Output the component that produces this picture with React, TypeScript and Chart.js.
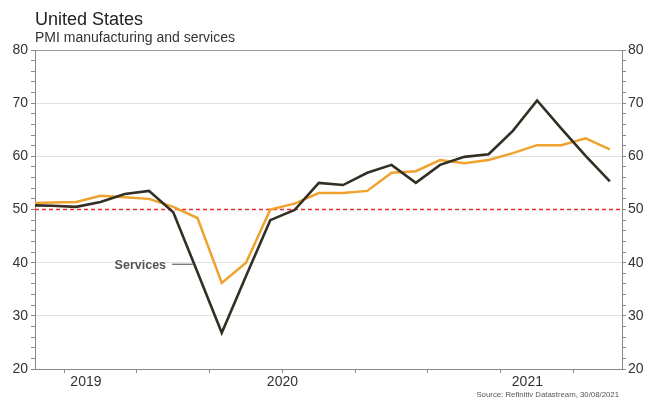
import { useEffect, useRef } from "react";
import { Chart, registerables } from "chart.js";

Chart.register(...registerables);

// Months relative to January 2020 (0 = Jan 2020), values plotted at mid-month
const months = [-5, -4, -3, -2, -1, 0, 1, 2, 3, 4, 5, 6, 7, 8, 9, 10, 11, 12, 13, 14, 15, 16, 17, 18, 19];
const servicesValues = [50.8, 50.7, 50.5, 51.4, 52.9, 53.5, 49.5, 38.2, 26.8, 37.5, 48.0, 49.9, 55.0, 54.6, 56.9, 58.4, 55.0, 58.4, 59.9, 60.4, 64.8, 70.5, 65.2, 60.1, 55.3];
const manufacturingValues = [51.2, 51.3, 51.4, 52.6, 52.3, 52.0, 50.5, 48.4, 36.2, 40.0, 50.0, 51.1, 53.1, 53.1, 53.5, 56.9, 57.2, 59.3, 58.7, 59.3, 60.6, 62.1, 62.1, 63.4, 61.3];
const thresholdValue = 50;

const xMin = -4.2;
const xMax = 20;
const quarterTicks = [-3, 0, 3, 6, 9, 12, 15, 18];
const yearLabels = ["2019", "2020", "2021"];
const yearLabelPositions = [-2.1, 6, 16.1];
const yMin = 20;
const yMax = 80;
const yMinorStep = 2;
const yMajorStep = 10;

const titleText = "United States";
const subtitleText = "PMI manufacturing and services";
const sourceText = "Source: Refinitiv Datastream, 30/08/2021";
const calloutText = "Services";
const calloutLine = { x1: 1.45, x2: 2.3, y: 39.7 };

const DARK = "#332f24";
const ORANGE = "#f0a22e";
const RED = "#ec2f2f";
const FONT = "'Liberation Sans', Arial, Helvetica, sans-serif";

const textPlugin = {
  id: "texts",
  afterDraw(chart: any) {
    const ctx = chart.ctx;
    const area = chart.chartArea;
    const xs = chart.scales.x;
    const ys = chart.scales.y;
    ctx.save();
    ctx.textAlign = "left";
    ctx.textBaseline = "alphabetic";
    ctx.fillStyle = "#222";
    ctx.font = `18px ${FONT}`;
    ctx.fillText(titleText, area.left, 25);
    ctx.fillStyle = "#333";
    ctx.font = `14px ${FONT}`;
    ctx.fillText(subtitleText, area.left, 42);

    ctx.font = `7.8px ${FONT}`;
    ctx.fillStyle = "#555";
    ctx.textAlign = "right";
    ctx.fillText(sourceText, 619, 397);

    // callout
    const lx1 = xs.getPixelForValue(calloutLine.x1);
    const lx2 = xs.getPixelForValue(calloutLine.x2);
    const ly = ys.getPixelForValue(calloutLine.y);
    ctx.strokeStyle = "#666";
    ctx.lineWidth = 1.2;
    ctx.beginPath();
    ctx.moveTo(lx1, ly);
    ctx.lineTo(lx2, ly);
    ctx.stroke();
    ctx.font = `bold 12.5px ${FONT}`;
    ctx.fillStyle = "#555";
    ctx.textAlign = "right";
    ctx.textBaseline = "middle";
    ctx.fillText(calloutText, lx1 - 6, ly + 1);
    ctx.restore();
  },
};

export default function App() {
  const ref = useRef<HTMLCanvasElement | null>(null);

  useEffect(() => {
    if (!ref.current) return;
    Chart.defaults.font.family = FONT;
    const servicesData = months.map((m, i) => ({ x: m + 0.5, y: servicesValues[i] }));
    const manufacturingData = months.map((m, i) => ({ x: m + 0.5, y: manufacturingValues[i] }));
    const thresholdData = [
      { x: xMin, y: thresholdValue },
      { x: xMax, y: thresholdValue },
    ];

    const yTickCfg = (pos: "left" | "right") => ({
      type: "linear" as const,
      position: pos,
      min: yMin,
      max: yMax,
      ticks: {
        stepSize: yMinorStep,
        autoSkip: false,
        color: "#333",
        font: { size: 14 },
        padding: pos === "left" ? 3 : 2,
        callback: (v: any) => (Number(v) % yMajorStep === 0 ? String(v) : ""),
      },
      grid: {
        drawOnChartArea: pos === "left",
        color: (c: any) => {
          const v = c.tick ? c.tick.value : 0;
          if (v === yMax) return "#999";
          if (v === yMin || v === thresholdValue) return "rgba(0,0,0,0)";
          return v % yMajorStep === 0 ? "#e2e2e2" : "rgba(0,0,0,0)";
        },
        tickColor: "#888",
        tickLength: 4,
        lineWidth: 1,
      },
      border: { color: "#888", width: 1 },
      afterFit: (s: any) => {
        s.width = pos === "left" ? 35 : 26;
      },
    });

    const chart = new Chart(ref.current, {
      type: "line",
      data: {
        datasets: [
          {
            label: "Services",
            data: servicesData,
            borderColor: DARK,
            backgroundColor: DARK,
            borderWidth: 2.6,
            pointRadius: 0,
            tension: 0,
            clip: 0,
            order: 0,
          },
          {
            label: "Manufacturing",
            data: manufacturingData,
            borderColor: ORANGE,
            backgroundColor: ORANGE,
            borderWidth: 2.5,
            pointRadius: 0,
            tension: 0,
            clip: 0,
            order: 1,
          },
          {
            label: "Threshold",
            data: thresholdData,
            borderColor: RED,
            backgroundColor: RED,
            borderWidth: 1.5,
            borderDash: [4, 3],
            pointRadius: 0,
            clip: 0,
            order: 2,
          },
        ],
      },
      options: {
        responsive: false,
        animation: false,
        devicePixelRatio: 1,
        layout: { padding: { top: 50, left: 0, right: 0, bottom: 0 } },
        plugins: {
          legend: { display: false },
          tooltip: { enabled: false },
          title: { display: false },
        },
        scales: {
          x: {
            type: "linear",
            min: xMin,
            max: xMax,
            afterBuildTicks: (s: any) => {
              const vals = Array.from(new Set([...quarterTicks, ...yearLabelPositions])).sort((a, b) => a - b);
              s.ticks = vals.map((v) => ({ value: v }));
            },
            ticks: {
              autoSkip: false,
              maxRotation: 0,
              color: "#333",
              font: { size: 14 },
              padding: 1,
              callback: (v: any) => {
                const idx = yearLabelPositions.indexOf(Number(v));
                return idx >= 0 ? yearLabels[idx] : "";
              },
            },
            grid: {
              drawOnChartArea: false,
              tickLength: 4,
              tickColor: (c: any) =>
                c.tick && quarterTicks.indexOf(c.tick.value) >= 0 ? "#888" : "rgba(0,0,0,0)",
            },
            border: { color: "#888", width: 1 },
            afterFit: (s: any) => {
              s.height = 30;
            },
          },
          y: yTickCfg("left"),
          y2: yTickCfg("right"),
        },
      } as any,
      plugins: [textPlugin],
    });
    return () => chart.destroy();
  }, []);

  return (
    <div style={{ position: "absolute", left: 0, top: 0, width: 648, height: 399, background: "#fff" }}>
      <canvas ref={ref} width={648} height={399} style={{ width: 648, height: 399, display: "block" }} />
    </div>
  );
}
